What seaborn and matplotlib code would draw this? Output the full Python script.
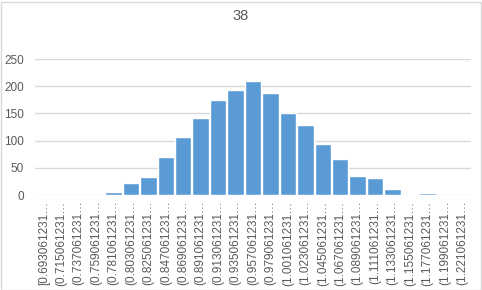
import matplotlib
matplotlib.use("Agg")
import matplotlib.pyplot as plt
import seaborn as sns
import pandas as pd
from matplotlib.patches import Rectangle

title = "38"
labels = [
    "[0.693061231…", "(0.715061231…", "(0.737061231…", "(0.759061231…",
    "(0.781061231…", "(0.803061231…", "(0.825061231…", "(0.847061231…",
    "(0.869061231…", "(0.891061231…", "(0.913061231…", "(0.935061231…",
    "(0.957061231…", "(0.979061231…", "(1.001061231…", "(1.023061231…",
    "(1.045061231…", "(1.067061231…", "(1.089061231…", "(1.111061231…",
    "(1.133061231…", "(1.155061231…", "(1.177061231…", "(1.199061231…",
    "(1.221061231…",
]
counts = [0, 0, 0, 0, 6, 22, 34, 69, 107, 142, 175, 193, 210, 188, 151,
          129, 94, 66, 35, 31, 11, 2, 4, 0, 0]
yticks = [0, 50, 100, 150, 200, 250]

sns.set_theme(style="white")
plt.rcParams['font.family'] = ['Liberation Sans', 'DejaVu Sans']

fig = plt.figure(figsize=(4.82, 2.90), dpi=100)
ax = fig.add_axes([35/482, 1-195/290, (471-35)/482, (195-59)/290])

df = pd.DataFrame({"bin": labels, "count": counts})
sns.barplot(data=df, x="bin", y="count", color="#5b9bd5", saturation=1,
            width=0.94, ax=ax, zorder=3)

ax.set_ylim(0, 250)
ax.set_yticks(yticks)
ax.set_xlim(-0.5, len(labels)-0.5)
ax.yaxis.grid(True, color="#d9d9d9", linewidth=1, zorder=0)
ax.set_axisbelow(True)
for s in ax.spines.values():
    s.set_visible(False)
ax.set_xlabel("")
ax.set_ylabel("")
ax.tick_params(axis="y", length=0, pad=8, labelsize=8.5, labelcolor="#595959")
ax.tick_params(axis="x", length=0, pad=4, labelsize=8.5, labelcolor="#595959")
ax.set_xticks(range(len(labels)))
ax.set_xticklabels(labels, rotation=90, va="top", ha="center")

fig.text(241/482, 1-16/290, title, ha="center", va="center", fontsize=10.5, color="#595959")

fig.patches.append(Rectangle((0.5/482, 0.5/290), 480.5/482, 288/290, transform=fig.transFigure,
                             fill=False, edgecolor="#d9d9d9", linewidth=1))

fig.savefig("out.png", dpi=100)
